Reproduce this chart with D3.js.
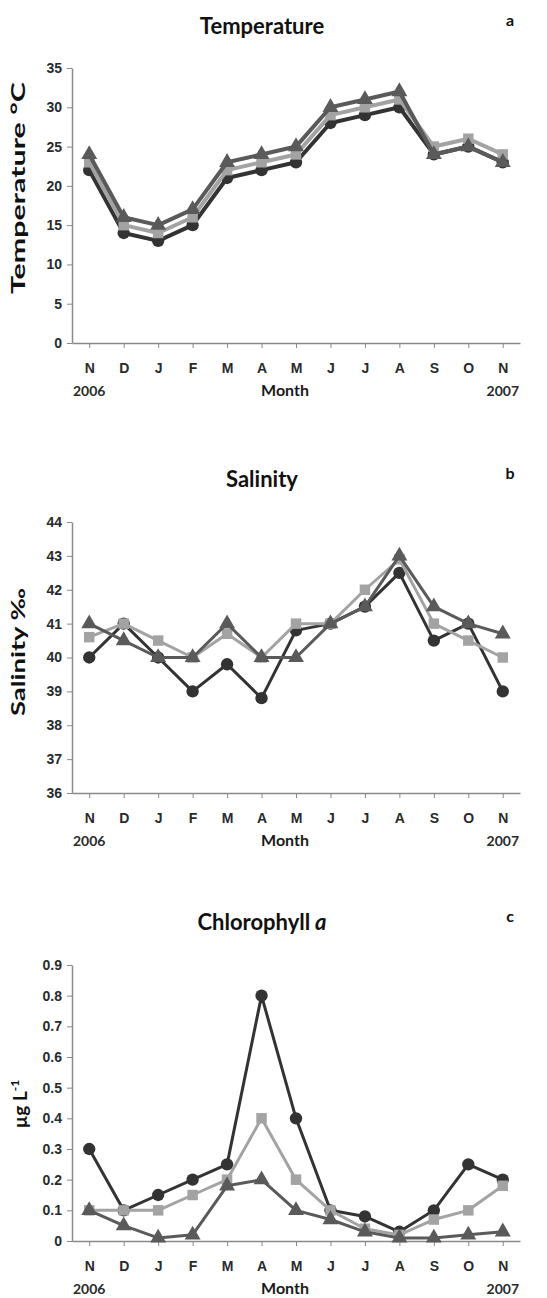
<!DOCTYPE html>
<html>
<head>
<meta charset="utf-8">
<script src="https://cdn.jsdelivr.net/npm/d3@7"></script>
<style>
  body { margin: 0; background: #fff; }
  svg { font-family: Lato, "Open Sans", sans-serif; }
</style>
</head>
<body>
<div id="chart"></div>
<script>
var months = ['N', 'D', 'J', 'F', 'M', 'A', 'M', 'J', 'J', 'A', 'S', 'O', 'N'];

// temperature (°C)
var tempCircle = [22, 14, 13, 15, 21, 22, 23, 28, 29, 30, 24, 25, 23];
var tempSquare = [23, 15, 14, 16, 22, 23, 24, 29, 30, 31, 25, 26, 24];
var tempTriangle = [24, 16, 15, 17, 23, 24, 25, 30, 31, 32, 24, 25, 23];
var tempTicks = [0, 5, 10, 15, 20, 25, 30, 35];

// salinity (‰)
var salCircle = [40, 41, 40, 39, 39.8, 38.8, 40.8, 41, 41.5, 42.5, 40.5, 41, 39];
var salSquare = [40.6, 41, 40.5, 40, 40.7, 40, 41, 41, 42, 42.9, 41, 40.5, 40];
var salTriangle = [41, 40.5, 40, 40, 41, 40, 40, 41, 41.5, 43, 41.5, 41, 40.7];
var salTicks = [36, 37, 38, 39, 40, 41, 42, 43, 44];

// chlorophyll a (µg/L)
var chlCircle = [0.3, 0.1, 0.15, 0.2, 0.25, 0.8, 0.4, 0.1, 0.08, 0.03, 0.1, 0.25, 0.2];
var chlSquare = [0.1, 0.1, 0.1, 0.15, 0.2, 0.4, 0.2, 0.1, 0.04, 0.02, 0.07, 0.1, 0.18];
var chlTriangle = [0.1, 0.05, 0.01, 0.02, 0.18, 0.2, 0.1, 0.07, 0.03, 0.01, 0.01, 0.02, 0.03];
var chlTicks = [0, 0.1, 0.2, 0.3, 0.4, 0.5, 0.6, 0.7, 0.8, 0.9];

var svg = d3
  .select('#chart')
  .append('svg')
  .attr('width', 547)
  .attr('height', 1298);

var x = d3
  .scalePoint()
  .domain(d3.range(months.length))
  .range([72, 520])
  .padding(0.5);

function drawPanel(p) {
  var g = svg.append('g');
  var y = d3.scaleLinear().domain(p.domain).range([p.bottom, p.top]);

  // title + letter
  var title = g
    .append('text')
    .attr('x', 262)
    .attr('y', p.titleY)
    .attr('text-anchor', 'middle')
    .attr('font-size', 22)
    .attr('font-weight', 'bold')
    .attr('fill', '#111')
    .text(p.title);
  if (p.titleItalic) {
    title
      .append('tspan')
      .attr('font-style', 'italic')
      .text(' ' + p.titleItalic);
  }
  g.append('text')
    .attr('x', 510)
    .attr('y', p.titleY - 8)
    .attr('text-anchor', 'middle')
    .attr('font-size', 16)
    .attr('font-weight', 'bold')
    .attr('fill', '#111')
    .text(p.letter);

  // y axis
  var yAxis = g
    .append('g')
    .attr('transform', 'translate(72,0)')
    .call(d3.axisLeft(y).tickValues(p.ticks).tickSize(5).tickSizeOuter(0).tickPadding(5).tickFormat(p.fmt));
  yAxis.select('.domain').attr('stroke', '#8a8a8a').attr('stroke-width', 1.5);
  yAxis.selectAll('line').attr('stroke', '#8a8a8a');
  yAxis.selectAll('text').attr('font-size', 14).attr('font-weight', 'bold').attr('fill', '#2a2a2a');

  // x axis
  var xAxis = g
    .append('g')
    .attr('transform', 'translate(0,' + p.bottom + ')')
    .call(d3.axisBottom(x).tickSize(5).tickSizeOuter(0).tickPadding(15).tickFormat(function (i) { return months[i]; }));
  xAxis.select('.domain').attr('stroke', '#8a8a8a').attr('stroke-width', 1.5);
  xAxis.selectAll('line').attr('stroke', '#8a8a8a');
  xAxis.selectAll('text').attr('font-size', 14).attr('font-weight', 'bold').attr('fill', '#2a2a2a');

  var subY = p.bottom + 53;
  g.append('text').attr('x', x(0)).attr('y', subY).attr('text-anchor', 'middle')
    .attr('font-size', 14).attr('font-weight', 'bold').attr('fill', '#2a2a2a').text('2006');
  g.append('text').attr('x', x(12)).attr('y', subY).attr('text-anchor', 'middle')
    .attr('font-size', 14).attr('font-weight', 'bold').attr('fill', '#2a2a2a').text('2007');
  g.append('text').attr('x', 285).attr('y', subY).attr('text-anchor', 'middle')
    .attr('font-size', 16).attr('font-weight', 'bold').attr('fill', '#1a1a1a').text('Month');

  // y label
  var yl = g
    .append('text')
    .attr('transform', 'translate(' + p.labelX + ',' + p.labelY + ') rotate(-90)')
    .attr('text-anchor', 'middle')
    .attr('font-size', 19)
    .attr('font-weight', 'bold')
    .attr('fill', '#111');
  p.label(yl);

  var line = d3
    .line()
    .x(function (d, i) { return x(i); })
    .y(function (d) { return y(d); });

  var series = [
    { values: p.circle, color: '#333333', shape: d3.symbolCircle, size: 120 },
    { values: p.square, color: '#a3a3a3', shape: d3.symbolSquare, size: 110 },
    { values: p.triangle, color: '#5a5a5a', shape: d3.symbolTriangle, size: 110 }
  ];

  series.forEach(function (s) {
    g.append('path')
      .datum(s.values)
      .attr('fill', 'none')
      .attr('stroke', s.color)
      .attr('stroke-width', p.lineW)
      .attr('stroke-linejoin', 'round')
      .attr('d', line);
    g.selectAll(null)
      .data(s.values)
      .enter()
      .append('path')
      .attr('transform', function (d, i) { return 'translate(' + x(i) + ',' + y(d) + ')'; })
      .attr('d', d3.symbol().type(s.shape).size(s.size))
      .attr('fill', s.color);
  });
}

// a
drawPanel({
  title: 'Temperature', letter: 'a', titleY: 34,
  top: 68, bottom: 343, domain: [0, 35], ticks: tempTicks, fmt: d3.format('d'),
  circle: tempCircle, square: tempSquare, triangle: tempTriangle, lineW: 4,
  labelX: 25, labelY: 188,
  label: function (t) {
    t.attr('textLength', 212).attr('lengthAdjust', 'spacingAndGlyphs').text('Temperature °C');
  }
});

// b
drawPanel({
  title: 'Salinity', letter: 'b', titleY: 487,
  top: 522, bottom: 793, domain: [36, 44], ticks: salTicks, fmt: d3.format('d'),
  circle: salCircle, square: salSquare, triangle: salTriangle, lineW: 3,
  labelX: 25, labelY: 652,
  label: function (t) {
    t.attr('textLength', 128).attr('lengthAdjust', 'spacingAndGlyphs').text('Salinity ‰');
  }
});

// c
drawPanel({
  title: 'Chlorophyll', titleItalic: 'a', letter: 'c', titleY: 930,
  top: 965, bottom: 1241, domain: [0, 0.9], ticks: chlTicks,
  fmt: function (d) { return d === 0 ? '0' : d3.format('.1f')(d); },
  circle: chlCircle, square: chlSquare, triangle: chlTriangle, lineW: 3,
  labelX: 27, labelY: 1104,
  label: function (t) {
    t.append('tspan').text('µg L');
    t.append('tspan').attr('font-size', 12).attr('dy', -8).text('-1');
  }
});
</script>
</body>
</html>
